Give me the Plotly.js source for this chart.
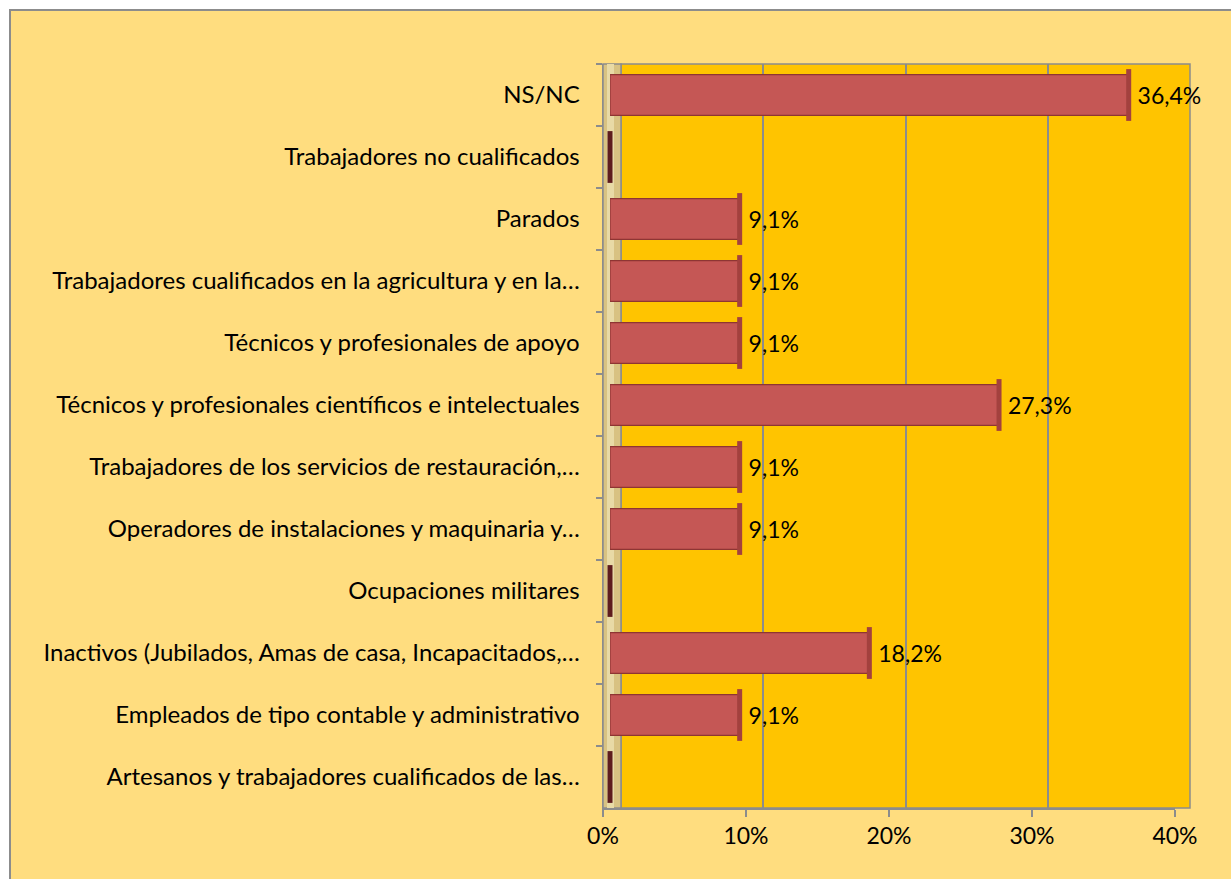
<!DOCTYPE html>
<html>
<head>
<meta charset="utf-8">
<script src="https://cdn.plot.ly/plotly-3.0.1.min.js"></script>
<style>
html, body { margin: 0; padding: 0; background: #fff; overflow: hidden; }
#frame { position: absolute; left: 9px; top: 9px; border-left: 2px solid #8c8c8c; border-top: 2px solid #8c8c8c; }
</style>
</head>
<body>
<div id="frame"><div id="chart"></div></div>
<script>
// categories listed top to bottom as in the original
let categories = [
    'NS/NC',
    'Trabajadores no cualificados',
    'Parados',
    'Trabajadores cualificados en la agricultura y en la…',
    'Técnicos y profesionales de apoyo',
    'Técnicos y profesionales científicos e intelectuales',
    'Trabajadores de los servicios de restauración,…',
    'Operadores de instalaciones y maquinaria y…',
    'Ocupaciones militares',
    'Inactivos (Jubilados, Amas de casa, Incapacitados,…',
    'Empleados de tipo contable y administrativo',
    'Artesanos y trabajadores cualificados de las…',
];
let percentages = [36.4, 0, 9.1, 9.1, 9.1, 27.3, 9.1, 9.1, 0, 18.2, 9.1, 0];
let tickValues = [0, 10, 20, 30, 40];
let tickLabels = ['0%', '10%', '20%', '30%', '40%'];

let barLabels = percentages.map(v => v > 0 ? '\u00a0' + v.toFixed(1).replace('.', ',') + '%' : '');

// pixel frame of the chart (inside the grey border)
let W = 1220, H = 868;
let plotLeft = 592, plotRight = 1179, plotTop = 53, plotBottom = 797;
let px = x => (x - plotLeft) / (plotRight - plotLeft);

let fontFam = 'Lato, "Open Sans", sans-serif';
let grey = '#8c8c8c';

let gridTrace = {
    x: [], y: [], type: 'scatter', mode: 'markers',
    xaxis: 'x', yaxis: 'y', hoverinfo: 'skip', showlegend: false,
};

let bars = {
    type: 'bar',
    orientation: 'h',
    x: percentages,
    y: categories,
    xaxis: 'x2', yaxis: 'y',
    marker: { color: '#C55755', line: { color: '#8E3533', width: 1.2 } },
    text: barLabels,
    textposition: 'outside',
    textfont: { family: fontFam, size: 23, color: '#000' },
    cliponaxis: false,
    hoverinfo: 'skip',
};

// the dark end face of each 3D bar (the only visible part of the empty ones)
let capColors = percentages.map(v => v > 0 ? '#A3413E' : '#5E1C1E');
let endCaps = {
    type: 'scatter',
    mode: 'markers',
    x: percentages,
    y: categories,
    xaxis: 'x2', yaxis: 'y',
    marker: {
        symbol: 'line-ns',
        size: 37,
        color: capColors,
        line: { width: 5, color: capColors },
    },
    cliponaxis: false,
    hoverinfo: 'skip',
    showlegend: false,
};

// invisible copy on the front axis so that its ticks get drawn
let frontAxis = {
    type: 'scatter',
    mode: 'markers',
    x: percentages,
    y: categories,
    xaxis: 'x3', yaxis: 'y',
    marker: { opacity: 0 },
    hoverinfo: 'skip',
    showlegend: false,
};

let layout = {
    width: W,
    height: H,
    margin: { l: plotLeft, r: W - plotRight, t: plotTop, b: H - plotBottom },
    paper_bgcolor: '#FFDD7F',
    plot_bgcolor: 'rgba(0,0,0,0)',
    showlegend: false,
    bargap: 0.34,
    font: { family: fontFam, size: 24, color: '#000' },
    xaxis: {
        domain: [px(610), 1],
        range: [0, 40],
        anchor: 'y',
        dtick: 10,
        showgrid: true,
        gridcolor: grey,
        gridwidth: 2,
        zeroline: false,
        showline: false,
        showticklabels: false,
        ticks: '',
        fixedrange: true,
    },
    xaxis2: {
        domain: [px(599), px(1169)],
        range: [0, 40],
        anchor: 'y',
        visible: false,
        fixedrange: true,
    },
    xaxis3: {
        domain: [0, px(1164)],
        range: [0, 40],
        anchor: 'y',
        tickvals: tickValues,
        ticktext: tickLabels,
        ticks: 'outside',
        ticklen: 7,
        tickcolor: grey,
        tickwidth: 1.5,
        showline: true,
        linecolor: grey,
        linewidth: 1.5,
        showgrid: false,
        zeroline: false,
        tickfont: { family: fontFam, size: 23, color: '#000' },
        fixedrange: true,
    },
    yaxis: {
        type: 'category',
        range: [categories.length - 0.5, -0.5],
        anchor: 'x3',
        showline: true,
        linecolor: grey,
        linewidth: 1.5,
        ticks: 'outside',
        tickson: 'boundaries',
        ticklen: 6,
        tickcolor: grey,
        tickwidth: 1.5,
        showgrid: false,
        zeroline: false,
        ticklabelstandoff: 17,
        tickfont: { family: fontFam, size: 24, color: '#000' },
        fixedrange: true,
    },
    shapes: [
        // back wall
        {
            type: 'rect', xref: 'paper', yref: 'paper', layer: 'below',
            x0: px(610), x1: 1, y0: 0, y1: 1,
            fillcolor: '#FFC400', line: { color: grey, width: 1.5 },
        },
        // side wall of the 3D frame
        {
            type: 'rect', xref: 'paper', yref: 'paper', layer: 'below',
            x0: 0, x1: px(610), y0: 0, y1: 1,
            fillcolor: '#D8C282', line: { color: grey, width: 1.5 },
        },
        {
            type: 'rect', xref: 'paper', yref: 'paper', layer: 'below',
            x0: px(596), x1: px(603), y0: 0, y1: 1,
            fillcolor: '#E8DAA6', line: { width: 0 },
        },
    ],
};

Plotly.newPlot('chart', [gridTrace, bars, endCaps, frontAxis], layout, { displayModeBar: false, staticPlot: true });
</script>
</body>
</html>
